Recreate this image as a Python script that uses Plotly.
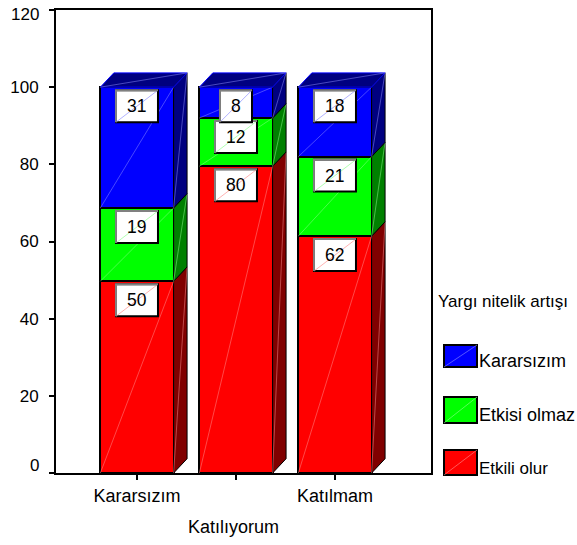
import plotly.graph_objects as go

categories = ["Kararsızım", "Katılıyorum", "Katılmam"]
series_names = ["Etkili olur", "Etkisi olmaz", "Kararsızım"]
etkili_olur = [49.7, 79.5, 61.4]
etkisi_olmaz = [19.0, 12.5, 20.6]
kararsizim = [31.3, 8.0, 18.0]
etkili_labels = ["50", "80", "62"]
etkisi_labels = ["19", "12", "21"]
kararsizim_labels = ["31", "8", "18"]
y_ticks = [0, 20, 40, 60, 80, 100, 120]
y_ticktext = ["", "20", "40", "60", "80", "100", ""]

front = ["#ff0000", "#00ff00", "#0000ff"]
side = ["#800000", "#008000", "#000080"]
tint = ["#ff9090", "#90ff90", "#9090ff"]
series = [etkili_olur, etkisi_olmaz, kararsizim]
labels = [etkili_labels, etkisi_labels, kararsizim_labels]

FONT = "Liberation Sans"
W = 577; H = 545
L = 56; R = 431; T = 10; B = 473
BW = 0.74
DX = 0.136
DY = 3.7
fs = 17
fb = 17.5
fc = 18

def px(x): return (x - L) / (R - L)
def py(y): return (B - y) / (B - T)

fig = go.Figure()
xs = list(range(len(categories)))

for s, vals in enumerate(series):
    fig.add_trace(go.Bar(x=xs, y=vals, width=BW, name=series_names[s], showlegend=False,
                         marker=dict(color=front[s], line=dict(color="black", width=2)),
                         hoverinfo="skip"))

def poly(x, y, color, line="black"):
    fig.add_trace(go.Scatter(x=x, y=y, mode="lines", fill="toself", fillcolor=color,
                             line=dict(color=line, width=1), showlegend=False, hoverinfo="skip"))

def diag(x, y, color):
    fig.add_trace(go.Scatter(x=x, y=y, mode="lines", line=dict(color=color, width=0.5),
                             showlegend=False, hoverinfo="skip"))

annotations = []
shapes = []
for i in xs:
    base = 0.0
    xl = i - BW / 2
    xr = i + BW / 2
    for s, vals in enumerate(series):
        top = base + vals[i]
        poly([xr, xr + DX, xr + DX, xr, xr], [base, base + DY, top + DY, top, base], side[s])
        diag([xl, xr], [base, top], tint[s])
        diag([xr, xr + DX], [base, top + DY], tint[s])
        txt = labels[s][i]
        w = 16 if len(txt) == 1 else 21
        common = dict(xref="x", yref="y", xsizemode="pixel", ysizemode="pixel",
                      xanchor=i, yanchor=top, layer="above")
        shapes.append(dict(type="rect", x0=-w, x1=w, y0=-35, y1=-3,
                           fillcolor="white", line=dict(color="black", width=2), **common))
        shapes.append(dict(type="line", x0=-w, x1=w, y0=-35, y1=-3,
                           line=dict(color=tint[s], width=0.7), **common))
        shapes.append(dict(type="path", path=f"M{-w},-35 L{-w},-3 L{w},-3",
                           line=dict(color="#808080", width=2), **common))
        annotations.append(dict(x=i, y=top, xref="x", yref="y", text=txt, showarrow=False,
                                yshift=-19, xanchor="center", yanchor="middle",
                                font=dict(family=FONT, size=fb, color="black")))
        base = top
    poly([xl, xl + DX, xr + DX, xr, xl], [base, base + DY, base + DY, base, base], side[2], line="#0000ff")
    diag([xl, xr + DX], [base, base + DY], tint[2])

# end tick labels sit off their ticks in the reference
for val, shift in ((y_ticks[0], 8), (y_ticks[-1], -4)):
    annotations.append(dict(x=px(41), y=val, xref="paper", yref="y", text=str(val), showarrow=False,
                            xanchor="right", yanchor="middle", yshift=shift, xshift=0,
                            font=dict(family=FONT, size=fs, color="black")))

# second-row category label
annotations.append(dict(x=1, xref="x", y=py(527), yref="paper", text=categories[1], showarrow=False,
                        xanchor="center", yanchor="middle", xshift=-2,
                        font=dict(family=FONT, size=fc, color="black")))

# legend
annotations.append(dict(x=px(438), y=py(301), xref="paper", yref="paper", text="Yargı nitelik artışı",
                        showarrow=False, xanchor="left", yanchor="middle", xshift=-2,
                        font=dict(family=FONT, size=fs, color="black")))
legend_rows = [(450, 475, 468), (397, 423, 415), (345, 367, 361)]
for s, (y0, y1, yt) in enumerate(legend_rows):
    shapes.append(dict(type="rect", xref="paper", yref="paper", x0=px(444), x1=px(477),
                       y0=py(y1), y1=py(y0), fillcolor=front[s],
                       line=dict(color="black", width=2), layer="above"))
    shapes.append(dict(type="line", xref="paper", yref="paper", x0=px(444), x1=px(477),
                       y0=py(y1), y1=py(y0), line=dict(color=tint[s], width=0.6), layer="above"))
    annotations.append(dict(x=px(479), y=py(yt), xref="paper", yref="paper", text=series_names[s],
                            showarrow=False, xanchor="left", yanchor="middle", xshift=-2,
                            font=dict(family=FONT, size=fc if s else fs, color="black")))

fig.update_layout(
    width=W, height=H, barmode="stack", showlegend=False,
    margin=dict(l=L, r=W - R, t=T, b=H - B, pad=0),
    paper_bgcolor="white", plot_bgcolor="white",
    annotations=annotations, shapes=shapes,
    font=dict(family=FONT, size=fs, color="black"),
    xaxis=dict(range=[-0.818, 2.97], tickmode="array", tickvals=xs,
               ticktext=[categories[0], "", categories[2]], automargin=False,
               ticks="outside", ticklen=5, tickwidth=1.5, tickcolor="black",
               showline=True, linecolor="black", linewidth=2, mirror=True, showgrid=False,
               zeroline=False, tickfont=dict(family=FONT, size=fc)),
    yaxis=dict(range=[0, 120], tickmode="array", tickvals=y_ticks, ticktext=y_ticktext, automargin=False,
               ticks="outside", ticklen=5, tickwidth=1.5, tickcolor="black", ticklabelstandoff=7,
               showline=True, linecolor="black", linewidth=2, mirror=True, showgrid=False,
               zeroline=False, tickfont=dict(family=FONT, size=fs)),
)
fig.write_html("out.html", config=dict(displayModeBar=False),
               post_script="document.body.style.margin='0';document.documentElement.style.overflow='hidden';")
